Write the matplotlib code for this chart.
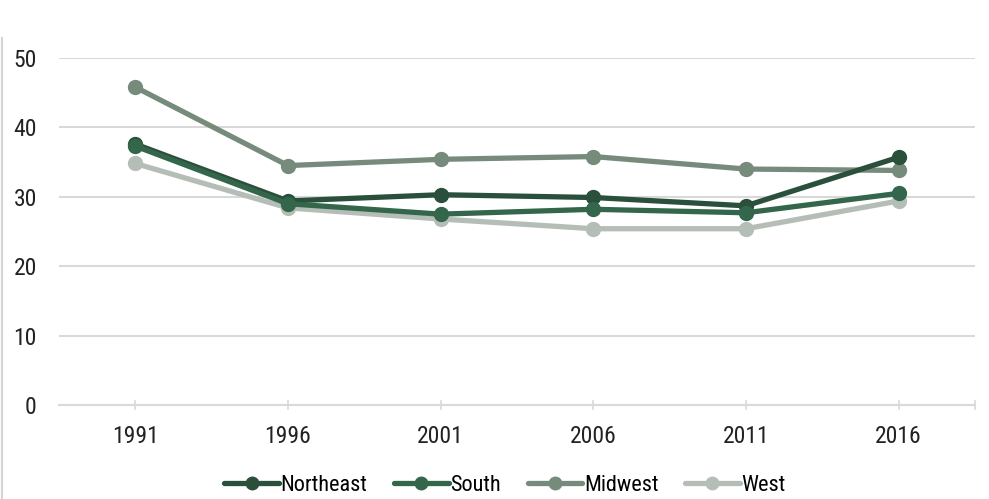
import matplotlib
matplotlib.use("Agg")
import matplotlib.pyplot as plt
from matplotlib.lines import Line2D

years = ["1991", "1996", "2001", "2006", "2011", "2016"]
northeast = [37.6, 29.4, 30.3, 29.9, 28.7, 35.7]
south = [37.3, 29.0, 27.5, 28.2, 27.7, 30.5]
midwest = [45.8, 34.5, 35.4, 35.8, 34.0, 33.8]
west = [34.8, 28.4, 26.8, 25.4, 25.4, 29.4]

series = [
    ("Northeast", northeast, "#2a503b"),
    ("South", south, "#33664a"),
    ("Midwest", midwest, "#768b7c"),
    ("West", west, "#b4beb7"),
]
draw_order = ["West", "Midwest", "Northeast", "South"]

plt.rcParams["font.family"] = ["Roboto Condensed", "Liberation Sans Narrow", "Roboto", "DejaVu Sans"]
plt.rcParams["font.stretch"] = "condensed"

fig = plt.figure(figsize=(9.89, 4.99), dpi=100)
ax = fig.add_axes([59 / 989, 1 - 405 / 499, (975 - 59) / 989, (405 - 58) / 499])

x = list(range(len(years)))
handles = {}
for name, vals, col in series:
    z = 3 + draw_order.index(name)
    (ln,) = ax.plot(x, vals, color=col, lw=3.8, marker="o", ms=10,
                    solid_capstyle="round", zorder=z, label=name, clip_on=False)
    handles[name] = ln

ax.set_xlim(-0.5, len(years) - 0.5)
ax.set_ylim(0, 50)
ax.set_yticks([0, 10, 20, 30, 40, 50])
ax.set_xticks(x)
ax.set_xticklabels(years)

grid_col = "#d9d9d9"
ax.yaxis.grid(True, color=grid_col, lw=1.5)
ax.set_axisbelow(True)
for s in ["top", "right", "left"]:
    ax.spines[s].set_visible(False)
ax.spines["bottom"].set_color(grid_col)
ax.spines["bottom"].set_linewidth(1.5)
ax.spines["bottom"].set_zorder(1)

ax.tick_params(axis="y", length=0, pad=16, labelsize=17, labelcolor="#222222")
ax.tick_params(axis="x", direction="inout", length=7, width=1.2, color=grid_col,
               pad=11, labelsize=17, labelcolor="#222222")
# extra end tick at the right edge of the category axis
ax.plot([len(years) - 0.5], [0], marker="|", ms=7, mew=1.2, color=grid_col,
        clip_on=False, zorder=1)

# thin gray border at the left of the figure
fig.add_artist(Line2D([2 / 989, 2 / 989], [0, 1 - 38 / 499],
                      transform=fig.transFigure, color="#d4d4d4", lw=1.5))

leg = fig.legend([handles[n] for n, _, _ in series], [n for n, _, _ in series],
                 loc="center", bbox_to_anchor=(0.5106, 0.027), ncol=4, frameon=False,
                 fontsize=16, handlelength=2.45, handletextpad=0.08,
                 columnspacing=1.2, borderaxespad=0, markerscale=0.9)

fig.savefig("out.png", dpi=100, facecolor="white")
